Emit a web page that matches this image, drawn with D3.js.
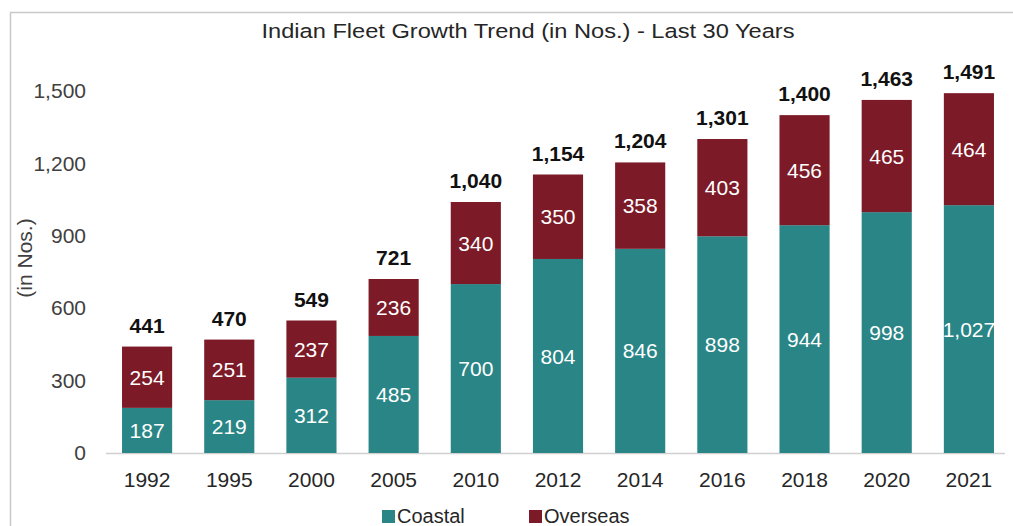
<!DOCTYPE html>
<html>
<head>
<meta charset="utf-8">
<script src="https://cdn.jsdelivr.net/npm/d3@7"></script>
<style>
  html, body { margin: 0; padding: 0; background: #fff; }
  svg { display: block; font-family: "Liberation Sans", Arial, sans-serif; }
</style>
</head>
<body>
<svg id="chart" width="1013" height="526"></svg>
<script>
// Fleet size by year, split into coastal and overseas vessels
const years = ["1992", "1995", "2000", "2005", "2010", "2012", "2014", "2016", "2018", "2020", "2021"];
const coastal = [187, 219, 312, 485, 700, 804, 846, 898, 944, 998, 1027];
const overseas = [254, 251, 237, 236, 340, 350, 358, 403, 456, 465, 464];
const totals = [441, 470, 549, 721, 1040, 1154, 1204, 1301, 1400, 1463, 1491];
const yTicks = [0, 300, 600, 900, 1200, 1500];
const seriesNames = ["Coastal", "Overseas"];
const colors = ["#2a8586", "#7c1a27"];

const FS = 21;
const svg = d3.select("#chart");
const fmt = d3.format(",");

// outer frame
svg.append("path")
  .attr("d", "M10.5,526 V12.5 H1013")
  .attr("fill", "none")
  .attr("stroke", "#c8c8c8")
  .attr("stroke-width", 1.5);

svg.append("text")
  .attr("x", 528).attr("y", 37.5)
  .attr("text-anchor", "middle")
  .attr("font-size", 20.5)
  .attr("textLength", 533)
  .attr("lengthAdjust", "spacingAndGlyphs")
  .attr("fill", "#262626")
  .text("Indian Fleet Growth Trend (in Nos.) - Last 30 Years");

const x = d3.scaleBand()
  .domain(years)
  .range([106, 1010])
  .paddingInner(0.39)
  .paddingOuter(0.195);

const y = d3.scaleLinear().domain([0, 1500]).range([453, 91]);

// value axis labels
const yAxis = d3.axisLeft(y).tickValues(yTicks).tickFormat(fmt).tickSize(0).tickPadding(0);
const yg = svg.append("g").attr("transform", "translate(86,0)").call(yAxis);
yg.select(".domain").remove();
yg.selectAll("text")
  .attr("font-size", FS)
  .attr("font-family", "Liberation Sans, Arial, sans-serif")
  .attr("fill", "#404040");

svg.append("text")
  .attr("transform", "translate(32,258) rotate(-90)")
  .attr("text-anchor", "middle")
  .attr("font-size", FS)
  .attr("fill", "#404040")
  .text("(in Nos.)");

// category axis
const xAxis = d3.axisBottom(x).tickSize(0).tickPadding(0);
const xg = svg.append("g").attr("transform", "translate(0,453)").call(xAxis);
xg.select(".domain")
  .attr("d", `M${x.range()[0]},0.5H1005`)
  .attr("stroke", "#d0d0d0")
  .attr("stroke-width", 1.5);
xg.selectAll("text")
  .attr("font-size", FS)
  .attr("font-family", "Liberation Sans, Arial, sans-serif")
  .attr("fill", "#262626")
  .attr("dy", 0)
  .attr("y", 34);

const rows = years.map((yr, i) => ({ year: yr, Coastal: coastal[i], Overseas: overseas[i], total: totals[i] }));
const stacked = d3.stack().keys(seriesNames)(rows);

const layers = svg.append("g").selectAll("g")
  .data(stacked)
  .join("g")
  .attr("fill", (d, i) => colors[i]);

layers.selectAll("rect")
  .data(d => d)
  .join("rect")
  .attr("x", d => x(d.data.year))
  .attr("width", x.bandwidth())
  .attr("y", d => y(d[1]))
  .attr("height", d => y(d[0]) - y(d[1]));

// segment values
layers.each(function (layer) {
  d3.select(this).selectAll("text")
    .data(layer)
    .join("text")
    .attr("x", d => x(d.data.year) + x.bandwidth() / 2)
    .attr("y", d => (y(d[0]) + y(d[1])) / 2)
    .attr("dy", "0.36em")
    .attr("text-anchor", "middle")
    .attr("font-size", FS)
    .attr("fill", "#ffffff")
    .text(d => fmt(d.data[layer.key]));
});

// totals above bars
svg.append("g").selectAll("text")
  .data(rows)
  .join("text")
  .attr("x", d => x(d.year) + x.bandwidth() / 2)
  .attr("y", d => y(d.total) - 14)
  .attr("text-anchor", "middle")
  .attr("font-size", FS)
  .attr("font-weight", "bold")
  .attr("fill", "#111")
  .text(d => fmt(d.total));

// legend
const legendX = [382, 529];
const legend = svg.append("g").selectAll("g")
  .data(seriesNames)
  .join("g")
  .attr("transform", (d, i) => `translate(${legendX[i]},510)`);
legend.append("rect").attr("width", 13).attr("height", 13).attr("fill", (d, i) => colors[i]);
legend.append("text")
  .attr("x", 15).attr("y", 13)
  .attr("font-size", 20)
  .attr("fill", "#262626")
  .text(d => d);
</script>
</body>
</html>
